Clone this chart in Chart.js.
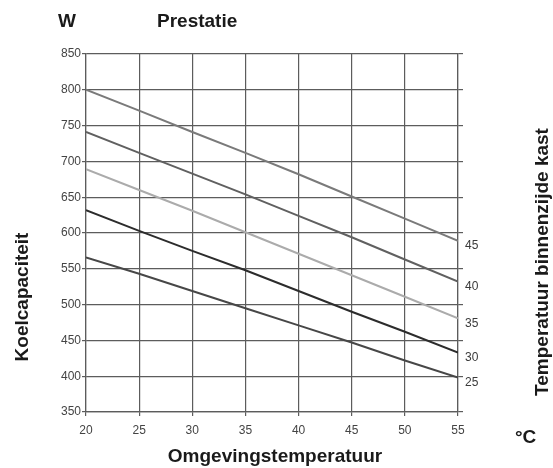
<!DOCTYPE html>
<html>
<head>
<meta charset="utf-8">
<script src="https://cdn.jsdelivr.net/npm/chart.js@4/dist/chart.umd.min.js"></script>
<style>
    html, body { margin: 0; padding: 0; background: #ffffff; }
    #wrap { width: 553px; height: 468px; }
</style>
</head>
<body>
<div id="wrap"><canvas id="chart" width="553" height="468"></canvas></div>
<script>
// Omgevingstemperatuur (°C) on x
const ambientTemps = [20, 25, 30, 35, 40, 45, 50, 55];

// Koelcapaciteit (W) per binnentemperatuur
const cap45 = [800, 771, 741, 712, 682, 651, 620, 589];
const cap40 = [741, 712, 683, 654, 624, 594, 563, 532];
const cap35 = [689, 660, 631, 601, 571, 541, 511, 481];
const cap30 = [632, 603, 575, 548, 519, 490, 462, 433];
const cap25 = [566, 543, 519, 495, 471, 447, 422, 398];

const seriesLabels = ['45', '40', '35', '30', '25'];
const seriesColors = ['#7a7a7a', '#606060', '#ababab', '#2c2c2c', '#474747'];

const yTicks = { min: 350, max: 850, step: 50 };
const xTicks = { min: 20, max: 55, step: 5 };

const gridColor = '#5c5c5c';
const tickFont = { family: '"Liberation Sans Narrow", "Liberation Sans", Arial, sans-serif', size: 12 };
const titleFont = 'bold 19px "Liberation Sans", Arial, sans-serif';

function toPoints(values) {
    return values.map((v, i) => ({ x: ambientTemps[i], y: v }));
}

const allSeries = [cap45, cap40, cap35, cap30, cap25];

// end labels + titles drawn on the canvas
const annotations = {
    id: 'annotations',
    afterDatasetsDraw(chart) {
        const ctx = chart.ctx;
        ctx.save();
        ctx.fillStyle = '#3a3a3a';
        ctx.font = '12px "Liberation Sans Narrow", "Liberation Sans", Arial, sans-serif';
        ctx.textAlign = 'left';
        ctx.textBaseline = 'middle';
        chart.data.datasets.forEach((ds, i) => {
            const pts = chart.getDatasetMeta(i).data;
            const last = pts[pts.length - 1];
            ctx.fillText(seriesLabels[i], last.x + 7, last.y + 5);
        });

        ctx.fillStyle = '#1a1a1a';
        ctx.font = titleFont;
        ctx.textBaseline = 'alphabetic';
        ctx.textAlign = 'left';
        ctx.fillText('W', 58, 27);
        ctx.fillText('Prestatie', 157, 27);
        ctx.fillText('\u00b0C', 515, 443);
        ctx.textAlign = 'center';
        ctx.fillText('Omgevingstemperatuur', 275, 462);

        ctx.save();
        ctx.translate(28, 297);
        ctx.rotate(-Math.PI / 2);
        ctx.fillText('Koelcapaciteit', 0, 0);
        ctx.restore();

        ctx.save();
        ctx.translate(548, 262);
        ctx.rotate(-Math.PI / 2);
        ctx.fillText('Temperatuur binnenzijde kast', 0, 0);
        ctx.restore();
        ctx.restore();
    }
};

new Chart(document.getElementById('chart'), {
    type: 'line',
    data: {
        datasets: allSeries.map((vals, i) => ({
            label: seriesLabels[i],
            data: toPoints(vals),
            borderColor: seriesColors[i],
            borderWidth: 2,
            pointRadius: 0,
            tension: 0,
            fill: false
        }))
    },
    options: {
        responsive: false,
        animation: false,
        layout: { padding: { top: 54, right: 90, bottom: 0, left: 0 } },
        plugins: {
            legend: { display: false },
            tooltip: { enabled: false }
        },
        scales: {
            x: {
                type: 'linear',
                min: xTicks.min,
                max: xTicks.max,
                afterFit: (scale) => { scale.height = 56; },
                ticks: { stepSize: xTicks.step, color: '#444', font: tickFont, padding: 7 },
                grid: { color: gridColor, lineWidth: 1.2, tickLength: 4 },
                border: { color: gridColor, width: 1.2 }
            },
            y: {
                min: yTicks.min,
                max: yTicks.max,
                afterFit: (scale) => { scale.width = 86; },
                ticks: { stepSize: yTicks.step, color: '#444', font: tickFont, padding: 1 },
                grid: { color: gridColor, lineWidth: 1.2, tickLength: 4 },
                border: { color: gridColor, width: 1.2 }
            },
            y2: {
                position: 'right',
                min: yTicks.min,
                max: yTicks.max,
                afterFit: (scale) => { scale.width = 5; },
                ticks: { stepSize: yTicks.step, display: false },
                grid: { color: gridColor, lineWidth: 1.2, tickLength: 5, drawOnChartArea: false },
                border: { color: gridColor, width: 1.2 }
            }
        }
    },
    plugins: [annotations]
});
</script>
</body>
</html>
